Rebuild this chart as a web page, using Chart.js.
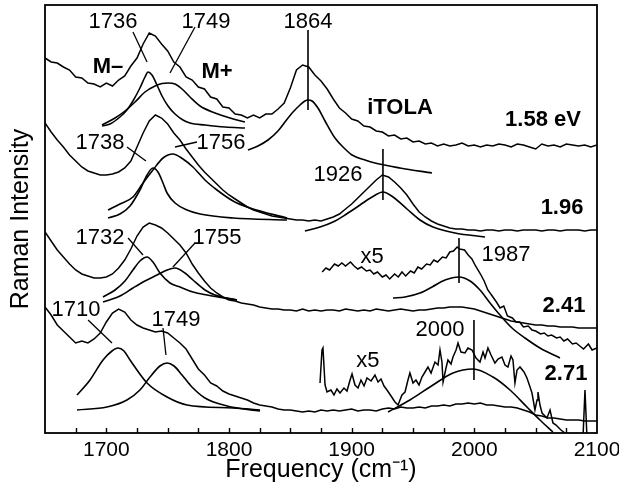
<!DOCTYPE html>
<html>
<head>
<meta charset="utf-8">
<script src="https://cdn.jsdelivr.net/npm/chart.js@4.4.1/dist/chart.umd.min.js"></script>
<style>
html, body { margin: 0; padding: 0; background: #fff; }
</style>
</head>
<body>
<canvas id="chart" width="619" height="493"></canvas>
<script>
// shared frequency grid (cm-1) for the four measured spectra
const grid = [
    1650, 1655, 1660, 1665, 1670, 1675, 1680, 1685, 1690, 1695,
    1700, 1705, 1710, 1715, 1720, 1725, 1730, 1735, 1740, 1745,
    1750, 1755, 1760, 1765, 1770, 1775, 1780, 1785, 1790, 1795,
    1800, 1805, 1810, 1815, 1820, 1825, 1830, 1835, 1840, 1845,
    1850, 1855, 1860, 1865, 1870, 1875, 1880, 1885, 1890, 1895,
    1900, 1905, 1910, 1915, 1920, 1925, 1930, 1935, 1940, 1945,
    1950, 1955, 1960, 1965, 1970, 1975, 1980, 1985, 1990, 1995,
    2000, 2005, 2010, 2015, 2020, 2025, 2030, 2035, 2040, 2045,
    2050, 2055, 2060, 2065, 2070, 2075, 2080, 2085, 2090, 2095,
    2100
]

// measured spectra (offset, arbitrary units)
const s158 = [
    375, 371, 370, 366, 363, 356, 355, 350, 349, 346,
    350, 347, 353, 357, 367, 375, 389, 400, 397, 389,
    382, 371, 366, 356, 353, 346, 344, 336, 334, 326,
    325, 319, 318, 315, 318, 315, 319, 319, 324, 330,
    345, 363, 368, 366, 358, 352, 344, 334, 325, 320,
    314, 312, 307, 306, 302, 301, 297, 298, 294, 295,
    291, 292, 289, 290, 287, 289, 287, 288, 290, 287,
    288, 286, 288, 287, 289, 288, 286, 289, 288, 286,
    284, 289, 287, 288, 286, 289, 288, 287, 288, 286,
    288
]
const s196 = [
    310, 301, 293, 286, 278, 272, 266, 262, 260, 258,
    258, 259, 261, 265, 272, 286, 300, 312, 318, 315,
    309, 300, 293, 284, 276, 268, 261, 255, 249, 243,
    238, 234, 230, 226, 223, 221, 219, 217, 216, 215,
    214, 213, 213, 212, 213, 212, 214, 216, 219, 224,
    229, 235, 241, 247, 253, 258, 256, 251, 245, 238,
    229, 221, 216, 212, 209, 207, 205, 204, 204, 203,
    203, 202, 203, 203, 202, 203, 203, 202, 203, 203,
    203, 202, 203, 203, 202, 203, 203, 203, 202, 203,
    203
]
const s241 = [
    201, 192, 183, 176, 169, 163, 159, 157, 155, 155,
    156, 159, 165, 173, 184, 197, 206, 210, 208, 205,
    200, 194, 188, 180, 169, 160, 152, 145, 140, 136,
    133, 132, 130, 129, 128, 126, 125, 124, 124, 123,
    123, 122, 124, 122, 123, 122, 123, 123, 122, 124,
    123, 122, 123, 122, 124, 123, 122, 123, 124, 123,
    122, 123, 123, 124, 125, 125, 126, 126, 126, 125,
    124, 122, 120, 118, 116, 114, 112, 111, 110, 109,
    108, 108, 107, 107, 106, 106, 106, 105, 105, 105,
    105
]
const s271 = [
    126, 118, 108, 102, 96, 90, 92, 90, 94, 100,
    111, 120, 124, 121, 113, 108, 105, 103, 101, 102,
    100, 95, 90, 84, 74, 64, 58, 50, 47, 42,
    39, 37, 35, 33, 30, 28, 27, 26, 24, 23,
    23, 22, 21, 22, 21, 23, 22, 23, 22, 23,
    24, 22, 23, 23, 22, 24, 25, 24, 26, 25,
    25, 26, 25, 27, 27, 28, 27, 29, 29, 30,
    29, 30, 28, 28, 27, 26, 26, 25, 23, 21,
    18, 17, 15, 15, 14, 13, 13, 13, 12, 12,
    12
]

// x5 magnified traces [frequency, intensity]
const x5_241 = [
    [1876,161],[1879,165],[1882,163],[1886,169],[1889,167],[1892,170],[1895,167],[1899,171],[1902,167],[1905,164],
    [1908,166],[1912,162],[1915,163],[1918,159],[1921,161],[1925,156],[1928,158],[1931,154],[1935,159],[1938,156],
    [1941,161],[1944,157],[1948,162],[1951,160],[1954,166],[1957,164],[1961,169],[1964,168],[1967,173],[1970,171],
    [1974,176],[1977,175],[1980,181],[1983,182],[1986,186],[1988,184],[1992,183],[1995,178],[1998,174],[2001,167],
    [2005,159],[2008,152],[2011,143],[2014,138],[2018,131],[2021,125],[2024,127],[2027,117],[2031,115],[2034,111],
    [2037,111],[2040,106],[2044,107],[2047,103],[2050,102],[2054,99],[2057,100],[2060,97],[2063,98],[2067,95],
    [2070,96],[2073,92],[2076,94],[2080,89],[2083,90],[2086,87],[2089,84],[2093,89],[2096,83],[2100,85]
]
const x5_271 = [
    [1874.2,50],[1875.8,83],[1876.6,85],[1878.3,48],[1879.9,41],[1883.1,43],[1885.6,38],[1888.0,44],[1890.5,40],[1893.7,45],
    [1896.2,42],[1898.7,53],[1900.3,59],[1902.7,48],[1905.2,45],[1907.6,53],[1910.1,47],[1912.5,55],[1915.8,52],[1919.0,58],
    [1921.5,51],[1923.9,54],[1926.4,47],[1928.8,43],[1932.1,37],[1935.3,31],[1937.8,28],[1941.0,38],[1943.5,41],[1945.9,53],
    [1947.5,60],[1950.0,50],[1952.4,53],[1954.9,48],[1957.3,56],[1959.8,61],[1962.2,66],[1964.7,60],[1967.9,71],[1970.4,68],
    [1972.0,83],[1973.6,71],[1974.5,51],[1976.9,65],[1978.5,73],[1981.0,69],[1982.6,76],[1985.1,83],[1986.7,90],[1989.1,81],
    [1992.4,80],[1994.8,85],[1998.1,83],[2001.4,75],[2004.6,71],[2007.1,81],[2008.7,75],[2011.1,85],[2013.6,78],[2016.8,70],
    [2019.3,74],[2022.5,76],[2025.0,68],[2027.4,66],[2029.9,77],[2031.5,73],[2033.1,50],[2034.8,63],[2037.2,66],[2040.5,61],
    [2042.9,55],[2045.4,46],[2047.0,40],[2049.4,23],[2051.1,33],[2051.9,41],[2053.5,28],[2055.2,20],[2057.6,17],[2059.2,15],
    [2061.7,23],[2064.1,10],[2066.6,8],[2068.2,6],[2070.6,3],[2073.9,0],[2078.0,-4],[2086.1,-7],[2088.6,-4],[2090.2,43],
    [2091.8,-4],[2100,-7]
]

// fitted Lorentzian components [frequency, intensity]
const fit1736 = [[1696.5,307],[1703.0,309],[1711.1,316],[1716.8,323],[1721.7,332],[1727.4,345],[1731.5,356],[1734.0,361],[1737.2,358],[1741.3,348],[1745.4,337],[1750.3,327],[1756.0,319],[1762.5,313],[1768.2,310],[1780.5,308],[1796.8,306],[1813.0,305]]
const fit1749a = [[1696.5,308],[1707.1,315],[1715.2,322],[1723.4,331],[1731.5,341],[1739.7,347],[1745.4,349.5],[1750.3,350],[1756.0,349],[1761.7,344],[1768.2,336],[1776.4,327],[1788.6,320],[1800.8,315],[1813.0,311]]
const fit1864 = [[1815.5,283],[1823.6,287],[1831.8,293],[1839.9,302],[1845.6,311],[1852.2,321],[1857.9,328],[1861.9,332],[1864.4,333],[1867.7,332],[1872.5,325],[1878.3,312],[1886.4,295],[1894.6,284],[1900.3,278],[1910.9,273],[1919.0,270],[1939.4,265],[1965.5,260]]
const fit1738 = [[1701.4,215],[1711.1,219],[1719.3,227],[1727.4,243],[1733.2,258],[1738.0,265],[1742.1,261],[1746.2,250],[1749.5,240],[1756.0,230],[1765.8,223],[1776.4,219],[1803.3,215],[1847.3,213]]
const fit1756 = [[1701.4,223],[1711.1,229],[1721.7,236],[1729.9,250],[1738.0,263],[1746.2,275],[1754.3,279],[1762.5,274],[1770.6,266],[1780.4,253],[1790.2,243],[1803.3,232],[1817.1,225],[1847.3,215]]
const fit1926 = [[1861.9,202],[1874.2,206],[1884.8,211],[1894.6,218],[1906.8,228],[1916.6,236],[1925.5,241],[1933.7,236],[1945.1,224],[1955.7,213],[1966.3,206],[1984.2,200],[2008.7,196]]
const fit1732 = [[1697.3,136],[1707.1,143],[1715.2,152],[1721.7,163],[1727.4,172],[1733.2,176],[1738.0,171],[1743.7,160],[1751.9,150],[1760.1,146],[1770.6,141],[1782.1,138],[1806.5,133]]
const fit1755 = [[1697.3,131],[1711.1,137],[1721.7,145],[1731.5,152],[1741.3,158],[1749.5,163],[1756.0,165],[1764.1,160],[1770.6,153],[1780.4,143],[1788.6,138],[1806.5,133]]
const fit1987 = [[1933.7,135],[1943.5,136],[1955.7,140],[1965.5,146],[1976.1,153],[1987.5,156],[1996.5,152],[2004.6,143],[2012.8,130],[2020.9,118],[2030.7,105],[2041.3,95],[2053.5,85],[2069.8,75]]
const fit1710 = [[1676.1,38],[1686.7,53],[1697.3,73],[1704.6,82],[1709.5,85],[1714.4,82],[1719.3,73],[1733.2,50],[1749.5,36],[1765.8,28],[1803.3,25],[1825.3,23]]
const fit1749b = [[1676.1,23],[1700.5,26],[1716.8,33],[1727.4,43],[1735.6,56],[1743.7,67],[1749.5,70],[1755.2,67],[1761.7,58],[1769.8,46],[1780.4,35],[1798.4,27],[1825.3,22]]
const fit2000 = [[1929.6,21],[1947.5,33],[1966.3,48],[1982.6,60],[1998.9,64],[2015.2,56],[2029.1,43],[2042.9,26],[2053.5,13],[2064.1,1]]

// peak markers and label leaders [frequency, intensity]
const vline1864 = [[1864.4,403],[1864.4,323]]
const vline1926 = [[1925.5,284],[1925.5,233]]
const vline1987 = [[1987.5,195],[1987.5,150]]
const vline2000 = [[1999.7,113],[1999.7,53]]
const lead1736 = [[1721.7,401],[1733.2,371]]
const lead1749a = [[1772.3,406],[1751.9,360]]
const lead1738 = [[1716.8,286],[1732.3,272]]
const lead1756 = [[1773.9,291],[1756.0,286]]
const lead1732 = [[1717.7,195],[1729.9,178]]
const lead1755 = [[1772.3,190],[1754.3,166]]
const lead1710 = [[1685.1,113],[1704.6,90]]
const lead1749b = [[1746.2,105],[1748.6,78]]

const xTicks = [1700, 1800, 1900, 2000, 2100]
const minorTicks = [1675, 1700, 1725, 1750, 1775, 1800, 1825, 1850, 1875, 1900, 1925, 1950, 1975, 2000, 2025, 2050, 2075]

// text, frequency, intensity, bold
const notes = [
    ['1736', 1705.4, 411, false], ['1749', 1781.2, 411, false], ['1864', 1864.4, 411, false],
    ['M\u2013', 1701.4, 366, true], ['M+', 1790.2, 361, true], ['iTOLA', 1939.4, 325, true],
    ['1.58 eV', 2056.0, 313, true],
    ['1738', 1694.8, 290, false], ['1756', 1793.5, 290, false], ['1926', 1888.9, 258, false],
    ['1.96', 2071.5, 225, true],
    ['1732', 1694.8, 195, false], ['1755', 1790.2, 195, false], ['x5', 1916.6, 176, false],
    ['1987', 2025.8, 178, false], ['2.41', 2073.1, 127, true],
    ['1710', 1675.3, 123, false], ['1749', 1756.8, 113, false], ['2000', 1972.0, 103, false],
    ['x5', 1913.3, 72, false], ['2.71', 2074.7, 59, true]
]

const FONT = '"Liberation Sans", Arial, sans-serif'

const onGrid = (vals) => grid.map((f, i) => ({ x: f, y: vals[i] }))
const toPts = (pairs) => pairs.map((p) => ({ x: p[0], y: p[1] }))

const trace = (data) => ({ data: data, borderColor: '#000', borderWidth: 1.5, pointRadius: 0, tension: 0 })
const fit = (pairs) => ({ data: toPts(pairs), borderColor: '#000', borderWidth: 1.6, pointRadius: 0, cubicInterpolationMode: 'monotone' })
const mark = (pairs, w) => ({ data: toPts(pairs), borderColor: '#000', borderWidth: w, pointRadius: 0, tension: 0 })

const datasets = [
    trace(onGrid(s158)), trace(onGrid(s196)), trace(onGrid(s241)), trace(onGrid(s271)),
    trace(toPts(x5_241)), trace(toPts(x5_271)),
    fit(fit1736), fit(fit1749a), fit(fit1864),
    fit(fit1738), fit(fit1756), fit(fit1926),
    fit(fit1732), fit(fit1755), fit(fit1987),
    fit(fit1710), fit(fit1749b), fit(fit2000),
    mark(vline1864, 1.6), mark(vline1926, 1.6), mark(vline1987, 1.6), mark(vline2000, 1.6),
    mark(lead1736, 1.3), mark(lead1749a, 1.3), mark(lead1738, 1.3), mark(lead1756, 1.3),
    mark(lead1732, 1.3), mark(lead1755, 1.3), mark(lead1710, 1.3), mark(lead1749b, 1.3)
]

const decor = {
    id: 'decor',
    afterDatasetsDraw(chart) {
        const { ctx, chartArea: a, scales: { x, y } } = chart
        ctx.save()
        ctx.strokeStyle = '#000'
        ctx.lineWidth = 1.8
        ctx.strokeRect(a.left, a.top, a.right - a.left, a.bottom - a.top)
        ctx.lineWidth = 1.4
        minorTicks.forEach((v) => {
            const px = Math.round(x.getPixelForValue(v)) + 0.5
            ctx.beginPath()
            ctx.moveTo(px, a.bottom)
            ctx.lineTo(px, a.bottom - 5)
            ctx.stroke()
        })
        ctx.fillStyle = '#000'
        ctx.textAlign = 'center'
        ctx.textBaseline = 'middle'
        notes.forEach(([t, fx, fy, bold]) => {
            ctx.font = (bold ? 'bold ' : '') + '22px ' + FONT
            ctx.fillText(t, x.getPixelForValue(fx), y.getPixelForValue(fy))
        })
        ctx.restore()
    }
}

new Chart(document.getElementById('chart'), {
    type: 'line',
    data: { datasets: datasets },
    plugins: [decor],
    options: {
        responsive: false,
        animation: false,
        devicePixelRatio: 1,
        layout: { padding: { top: 5, right: 22, left: 0, bottom: 0 } },
        plugins: { legend: { display: false }, tooltip: { enabled: false } },
        scales: {
            x: {
                type: 'linear',
                min: 1650,
                max: 2100,
                afterBuildTicks: (s) => { s.ticks = xTicks.map((v) => ({ value: v })) },
                afterFit: (s) => { s.height = 60; s.paddingLeft = 0; s.paddingRight = 0 },
                grid: { display: false, drawTicks: false },
                border: { display: false },
                ticks: {
                    color: '#000', padding: 5, maxRotation: 0, autoSkip: false,
                    font: { family: FONT, size: 21 },
                    callback: (v) => String(v)
                },
                title: {
                    display: true, text: 'Frequency (cm\u207B\u00B9)', color: '#000',
                    font: { family: FONT, size: 25 }, padding: { top: 0, bottom: 8 }
                }
            },
            y: {
                min: 0,
                max: 428,
                afterFit: (s) => { s.width = 45; s.paddingTop = 0; s.paddingBottom = 0 },
                grid: { display: false, drawTicks: false },
                border: { display: false },
                ticks: { display: false },
                title: {
                    display: true, text: 'Raman Intensity', color: '#000',
                    font: { family: FONT, size: 25 }, padding: { top: 6, bottom: 0 }
                }
            }
        }
    }
})
</script>
</body>
</html>
